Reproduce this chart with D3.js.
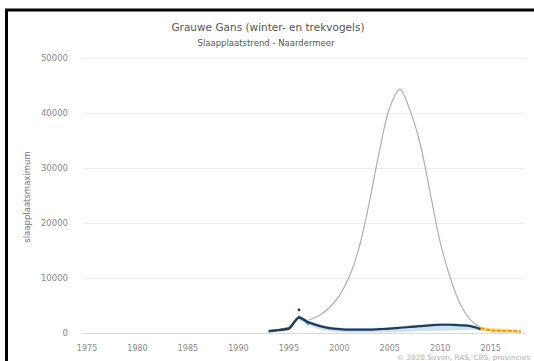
<!DOCTYPE html>
<html><head><meta charset="utf-8">
<script src="https://cdn.jsdelivr.net/npm/d3@7"></script>
<style>
html,body{margin:0;padding:0;background:#fff;}
svg{display:block;font-family:"DejaVu Sans",sans-serif;}
</style></head>
<body>
<svg id="chart" width="534" height="361"></svg>
<script>
const title = "Grauwe Gans (winter- en trekvogels)";
const subtitle = "Slaapplaatstrend - Naardermeer";
const yAxisTitle = "slaapplaatsmaximum";
const credit = "© 2020 Sovon, RAS, CBS, provincies";
const xTicks = [1975,1980,1985,1990,1995,2000,2005,2010,2015];
const yTicks = [0,10000,20000,30000,40000,50000];

// grey index line
const greyYears  = [1997,1998,1999,2000,2001,2002,2003,2004,2005,2006,2007,2008,2009,2010,2011,2012,2013,2014];
const greyValues = [2400,3200,4600,6800,10300,15800,24000,33300,41000,44300,40500,34500,25500,16500,10000,5200,2400,1000];

// trend (navy) with confidence band
const trendYears  = [1993,1994,1995,1996,1997,1998,1999,2000,2001,2002,2003,2004,2005,2006,2007,2008,2009,2010,2011,2012,2013,2014];
const trendValues = [300,500,800,2800,1900,1300,900,700,600,600,600,700,800,950,1100,1250,1400,1500,1500,1400,1250,700];
const trendLower  = [150,300,500,2300,1300,700,300,150,100,100,100,100,150,200,250,300,350,400,450,500,600,400];
const trendUpper  = [450,700,1100,3200,2300,1600,1200,1000,900,900,900,1000,1100,1250,1400,1550,1700,1800,1800,1700,1500,900];

// counts (teal) early years
const countYears  = [1993,1994,1995,1996,1997];
const countValues = [400,600,900,3000,1600];

// extra marker
const markerYears  = [1996];
const markerValues = [4200];

// recent trend (orange) with band
const recentYears  = [2014,2015,2016,2017,2018];
const recentValues = [900,500,400,350,250];
const recentLower  = [300,100,50,50,0];
const recentUpper  = [1200,900,800,750,650];

const svg = d3.select("#chart");
const x = d3.scaleLinear().domain([1974.5, 2018.5]).range([82, 526]);
const y = d3.scaleLinear().domain([0, 50000]).range([333, 58]);

// frame
svg.append("rect").attr("x",6.5).attr("y",10).attr("width",600).attr("height",400)
  .attr("fill","none").attr("stroke","#000").attr("stroke-width",3);

// gridlines
svg.append("g").selectAll("line").data(yTicks).join("line")
  .attr("x1",82).attr("x2",526).attr("y1",d=>y(d)+0.5).attr("y2",d=>y(d)+0.5)
  .attr("stroke",d=>d===0?"#d8d8e0":"#ececec").attr("stroke-width",1);

// y labels
svg.append("g").selectAll("text").data(yTicks).join("text")
  .attr("x",68).attr("y",d=>y(d)).attr("dy","0.35em").attr("text-anchor","end")
  .attr("font-size",8.5).attr("fill","#888").text(d=>d);

// x labels
svg.append("g").selectAll("text").data(xTicks).join("text")
  .attr("x",d=>x(d)).attr("y",348).attr("dy","0.35em").attr("text-anchor","middle")
  .attr("font-size",8).attr("fill","#888").text(d=>d);

// titles
svg.append("text").attr("x",268).attr("y",27).attr("dy","0.35em").attr("text-anchor","middle")
  .attr("font-size",10.5).attr("fill","#555").text(title);
svg.append("text").attr("x",266).attr("y",43).attr("dy","0.35em").attr("text-anchor","middle")
  .attr("font-size",8.5).attr("fill","#555").text(subtitle);
svg.append("text").attr("transform","translate(27,197) rotate(-90)").attr("dy","0.35em")
  .attr("text-anchor","middle").attr("font-size",8.5).attr("fill","#777").text(yAxisTitle);
svg.append("text").attr("x",530).attr("y",357).attr("dy","0.35em").attr("text-anchor","end")
  .attr("font-size",7.3).attr("fill","#b0b0b0").text(credit);

const curve = d3.curveMonotoneX;
const idx = (arr)=>arr.map((_,i)=>i);

// trend band
svg.append("path").datum(idx(trendYears))
  .attr("d", d3.area().curve(curve).x(i=>x(trendYears[i])).y0(i=>y(trendLower[i])).y1(i=>y(trendUpper[i])))
  .attr("fill","#bcdcec").attr("opacity",0.8);
// recent band
svg.append("path").datum(idx(recentYears))
  .attr("d", d3.area().curve(curve).x(i=>x(recentYears[i])).y0(i=>y(recentLower[i])).y1(i=>y(recentUpper[i])))
  .attr("fill","#f7dd7a").attr("opacity",0.85);

// grey line
svg.append("path").datum(idx(greyYears))
  .attr("d", d3.line().curve(d3.curveCatmullRom).x(i=>x(greyYears[i])).y(i=>y(greyValues[i])))
  .attr("fill","none").attr("stroke","#b0b0b0").attr("stroke-width",1.2);

// teal counts
svg.append("path").datum(idx(countYears))
  .attr("d", d3.line().x(i=>x(countYears[i])).y(i=>y(countValues[i])))
  .attr("fill","none").attr("stroke","#3f7f6a").attr("stroke-width",2);

// navy trend
svg.append("path").datum(idx(trendYears))
  .attr("d", d3.line().curve(curve).x(i=>x(trendYears[i])).y(i=>y(trendValues[i])))
  .attr("fill","none").attr("stroke","#243a5c").attr("stroke-width",2.2);

// orange recent
svg.append("path").datum(idx(recentYears))
  .attr("d", d3.line().curve(curve).x(i=>x(recentYears[i])).y(i=>y(recentValues[i])))
  .attr("fill","none").attr("stroke","#e0901c").attr("stroke-width",1.8)
  .attr("stroke-dasharray","4,1.5");

// marker
svg.append("g").selectAll("circle").data(idx(markerYears)).join("circle")
  .attr("cx",i=>x(markerYears[i])).attr("cy",i=>y(markerValues[i])).attr("r",1.4)
  .attr("fill","#333");
</script>
</body></html>
